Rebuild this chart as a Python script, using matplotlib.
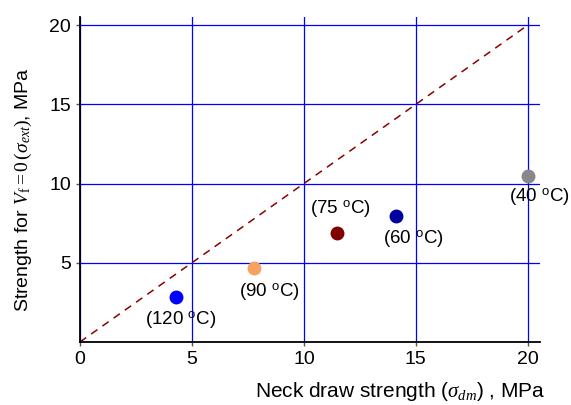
import matplotlib
matplotlib.use('Agg')
import matplotlib.pyplot as plt

plt.rcParams['font.family'] = ['Liberation Sans', 'DejaVu Sans']
plt.rcParams['mathtext.fontset'] = 'custom'
plt.rcParams['mathtext.rm'] = 'Liberation Serif'
plt.rcParams['mathtext.it'] = 'Liberation Serif:italic'
plt.rcParams['mathtext.sf'] = 'Liberation Sans'

# data
temps = ['120', '90', '75', '60', '40']
neck_draw = [4.28, 7.79, 11.5, 14.1, 20.0]
strength_ext = [2.86, 4.65, 6.86, 7.95, 10.5]
colors = ['#0000ff', '#f4a460', '#800000', '#0000a0', '#888888']
# label offsets in data units (dx, dy)
label_off = [(0.2, -1.47), (0.67, -1.54), (0.13, 1.53), (0.8, -1.5), (0.5, -1.4)]
ticks = [0, 5, 10, 15, 20]

fig = plt.figure(figsize=(5.71, 4.05), dpi=100)
ax = fig.add_axes([0.140, 0.1556, 0.806, 0.802])

ax.plot([0, 20], [0, 20], linestyle=(0, (5, 4)), color='#8b0000', linewidth=1.1, zorder=2)

for x, y, c, t, (dx, dy) in zip(neck_draw, strength_ext, colors, temps, label_off):
    ax.plot(x, y, 'o', color=c, markersize=9, zorder=3)
    ax.text(x + dx, y + dy, '(' + t + r' $^{\mathsf{o}}$C)', fontsize=13.5,
            ha='center', va='center', zorder=4)

ax.set_xlim(0, 20.55)
ax.set_ylim(0, 20.5)
ax.set_xticks(ticks)
ax.set_yticks(ticks[1:])
ax.tick_params(labelsize=14, length=3, width=1, color='#555555')
ax.grid(True, color='#0000ff', linewidth=0.9)
ax.set_axisbelow(True)
for s in ['top', 'right']:
    ax.spines[s].set_visible(False)
for s in ['left', 'bottom']:
    ax.spines[s].set_linewidth(1.3)

ax.set_xlabel(r'Neck draw strength ($\sigma_{dm}$) , MPa', fontsize=15)
ax.xaxis.set_label_coords(0.696, -0.118)
ax.set_ylabel(r'Strength for $V_{\mathrm{f}}{=}0\,(\sigma_{ext})$, MPa', fontsize=14)
ax.yaxis.set_label_coords(-0.10, 0.47)

plt.savefig('out.png', dpi=100)
